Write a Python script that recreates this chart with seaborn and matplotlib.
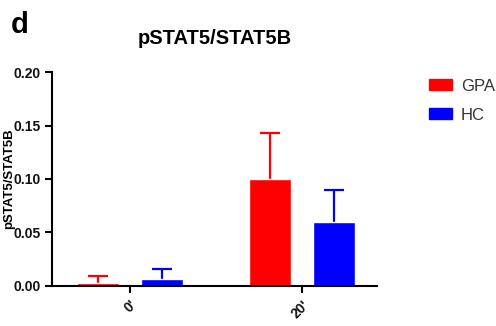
import numpy as np
import pandas as pd
import matplotlib
matplotlib.use("Agg")
import matplotlib.pyplot as plt
import seaborn as sns

# values
timepoints = ["0'", "20'"]
groups = ["GPA", "HC"]
means = {"GPA": [0.003, 0.100], "HC": [0.0065, 0.060]}
sems = {"GPA": [0.006, 0.043], "HC": [0.0095, 0.030]}
colors = {"GPA": "#ff0000", "HC": "#0000ff"}

rows = []
for g in groups:
    for t, m, s in zip(timepoints, means[g], sems[g]):
        rows.append({"time": t, "group": g, "value": m, "sem": s})
df = pd.DataFrame(rows)

sns.set_style("ticks")
plt.rcParams["font.family"] = ["Liberation Sans", "DejaVu Sans"]
plt.rcParams["text.color"] = "black"
plt.rcParams["axes.labelcolor"] = "black"

fig = plt.figure(figsize=(4.96, 3.26), dpi=100)
ax = fig.add_axes([0.105, 0.123, 0.655, 0.656])

sns.barplot(data=df, x="time", y="value", hue="group", palette=colors,
            order=timepoints, hue_order=groups, width=0.744, gap=0.344,
            errorbar=None, saturation=1, legend=False, ax=ax)

# upper-only error bars in the bar colour
for g, cont in zip(groups, ax.containers):
    for bar, s in zip(cont, sems[g]):
        x = bar.get_x() + bar.get_width() / 2
        y = bar.get_height()
        eb = ax.errorbar(x, y, yerr=[[0], [s]], fmt="none", ecolor=colors[g],
                         elinewidth=1.6, capsize=7.5, capthick=1.6, zorder=0.5)
        eb[1][0].set_visible(False)  # no cap on the lower side

ax.set_xlim(-0.453, 1.436)
ax.set_ylim(0, 0.20)
ax.set_yticks([0, 0.05, 0.10, 0.15, 0.20])
ax.set_yticklabels(["0.00", "0.05", "0.10", "0.15", "0.20"])
ax.set_xlabel("")
ax.set_ylabel("pSTAT5/STAT5B", fontsize=9.5, fontweight="bold")
ax.yaxis.set_label_coords(-0.115, 0.5)
ax.set_title("pSTAT5/STAT5B", fontsize=14.5, fontweight="bold", pad=20)
for lab in ax.get_xticklabels():
    lab.set_rotation(45)
    lab.set_ha("right")
    lab.set_rotation_mode("anchor")
ax.tick_params(axis="both", labelsize=10, width=1.5, length=5, color="black",
               labelcolor="#111111")
for lab in ax.get_xticklabels() + ax.get_yticklabels():
    lab.set_fontweight("bold")
for sp in ["left", "bottom"]:
    ax.spines[sp].set_linewidth(1.5)
    ax.spines[sp].set_color("black")
sns.despine(ax=ax)

handles = [plt.Rectangle((0, 0), 1, 1, color=colors[g]) for g in groups]
fig.legend(handles, groups, loc="upper left", bbox_to_anchor=(0.835, 0.805),
           frameon=False, fontsize=12, handlelength=1.35, handleheight=0.65,
           handletextpad=0.55, labelspacing=0.85, labelcolor="#333333")

fig.text(0.022, 0.9, "d", fontsize=21, fontweight="bold")

fig.savefig("out.png", dpi=100)
